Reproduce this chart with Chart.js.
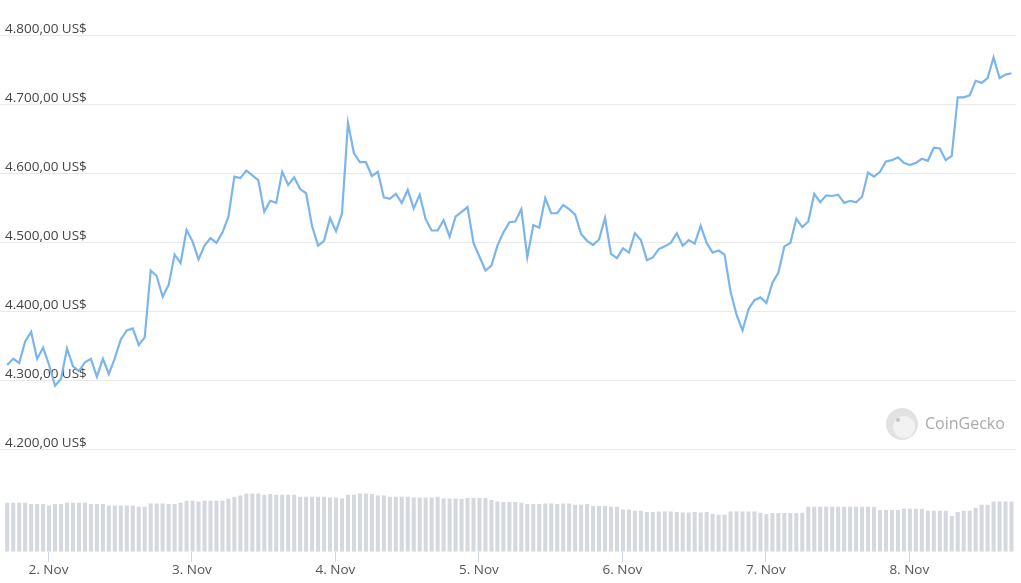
<!DOCTYPE html>
<html>
<head>
<meta charset="utf-8">
<script src="https://cdn.jsdelivr.net/npm/chart.js@4"></script>
<style>
  html, body { margin: 0; padding: 0; background: #fff; }
  #wrap { width: 1021px; height: 583px; }
</style>
</head>
<body>
<div id="wrap"><canvas id="myChart"></canvas></div>
<script>
// 価格 (US$) 1時間ごと、11/1 17時ごろから
const prices = [
  4323, 4332, 4326, 4357, 4371, 4332, 4348, 4323, 4293, 4303,
  4347, 4321, 4314, 4327, 4332, 4306, 4332, 4310, 4333, 4360,
  4373, 4376, 4352, 4363, 4460, 4452, 4422, 4439, 4483, 4471,
  4519, 4502, 4476, 4496, 4507, 4500, 4515, 4538, 4596, 4594,
  4605, 4598, 4591, 4545, 4561, 4558, 4603, 4584, 4595, 4578,
  4572, 4524, 4496, 4503, 4536, 4517, 4543, 4674, 4630, 4617,
  4617, 4597, 4603, 4566, 4564, 4571, 4558, 4577, 4550, 4570,
  4534, 4518, 4518, 4533, 4509, 4538, 4545, 4552, 4500, 4480,
  4460, 4467, 4496, 4515, 4530, 4531, 4549, 4479, 4526, 4522,
  4565, 4543, 4543, 4555, 4549, 4541, 4513, 4503, 4497, 4505,
  4536, 4484, 4478, 4492, 4486, 4514, 4504, 4475, 4479, 4491,
  4495, 4500, 4514, 4496, 4504, 4499, 4525, 4500, 4486, 4489,
  4483, 4429, 4396, 4373, 4404, 4417, 4421, 4413, 4442, 4457,
  4495, 4500, 4535, 4523, 4531, 4571, 4559, 4569, 4568, 4570,
  4558, 4561, 4559, 4567, 4602, 4596, 4603, 4618, 4620, 4624,
  4616, 4613, 4616, 4622, 4619, 4638, 4637, 4620, 4626, 4711,
  4711, 4714, 4735, 4732, 4739, 4769, 4739, 4744, 4746
];

// 取引量 (十億US$)
const volumes = [
  19.6, 19.6, 19.6, 19.6, 19.1, 19.1, 19.1, 18.5, 19.1, 19.1,
  19.6, 19.6, 19.6, 19.6, 19.1, 19.1, 19.1, 18.5, 18.5, 18.5,
  18.5, 18.5, 18.0, 18.0, 19.3, 19.3, 19.3, 19.1, 19.1, 19.6,
  20.4, 20.4, 20.1, 20.4, 20.4, 20.4, 20.4, 21.2, 22.0, 22.5,
  23.3, 23.3, 23.3, 22.8, 23.1, 22.8, 22.8, 22.8, 22.8, 22.0,
  22.0, 22.0, 22.0, 22.0, 21.7, 21.7, 21.3, 22.8, 22.8, 23.3,
  23.3, 23.1, 22.5, 22.5, 22.0, 22.0, 22.0, 22.0, 21.7, 21.7,
  21.7, 21.7, 22.0, 21.3, 21.3, 21.3, 21.1, 21.5, 21.5, 21.5,
  21.5, 20.7, 20.1, 19.9, 19.9, 19.9, 19.6, 19.1, 19.1, 19.1,
  19.3, 19.3, 19.1, 19.3, 19.3, 18.8, 18.8, 19.1, 18.3, 18.3,
  18.3, 18.0, 18.0, 16.9, 16.9, 16.4, 16.4, 15.9, 15.9, 16.1,
  16.1, 16.1, 15.9, 15.7, 15.7, 15.9, 15.7, 15.9, 15.1, 14.8,
  14.8, 16.1, 16.1, 16.1, 16.1, 16.1, 15.6, 15.1, 15.5, 15.5,
  15.5, 15.5, 15.5, 15.6, 18.0, 18.0, 18.0, 18.0, 18.0, 18.0,
  18.0, 18.0, 18.0, 18.0, 18.0, 18.0, 16.7, 16.7, 16.7, 16.7,
  17.2, 17.2, 17.2, 17.2, 16.4, 16.4, 16.4, 16.4, 14.3, 15.9,
  16.4, 16.4, 17.5, 18.8, 18.8, 20.1, 20.1, 20.1, 20.1
];

// 11/1 0時からの経過時間(時)
const startHour = 17.1;
const hours = prices.map((p, i) => startHour + i);

const dayTicks = [24, 48, 72, 96, 120, 144, 168];
const dayLabels = ['2. Nov', '3. Nov', '4. Nov', '5. Nov', '6. Nov', '7. Nov', '8. Nov'];
const priceTicks = [4200, 4300, 4400, 4500, 4600, 4700, 4800];

function usd(v) {
    const s = Math.round(v).toString();
    return s.slice(0, -3) + '.' + s.slice(-3) + ',00 US$';
}

// CoinGeckoの透かし
const watermark = {
    id: 'watermark',
    beforeDatasetsDraw(chart) {
        const c = chart.ctx;
        c.save();
        c.beginPath();
        c.arc(902, 424, 16, 0, Math.PI * 2);
        c.fillStyle = '#e2e2e2';
        c.fill();
        c.beginPath();
        c.arc(904, 427, 11, 0, Math.PI * 2);
        c.fillStyle = '#f2f2f2';
        c.fill();
        c.beginPath();
        c.arc(898, 420, 2, 0, Math.PI * 2);
        c.fillStyle = '#c4c4c4';
        c.fill();
        c.fillStyle = '#aaaaaa';
        c.font = '16px "Open Sans", sans-serif';
        c.textBaseline = 'middle';
        c.fillText('CoinGecko', 925, 424);
        c.restore();
    }
};

const ctx = document.getElementById('myChart').getContext('2d');
const myChart = new Chart(ctx, {
    type: 'bar',
    data: {
        datasets: [
        {
            type: 'line',
            label: 'Price',
            data: prices.map((p, i) => ({ x: hours[i], y: p })),
            borderColor: '#7cb5ec',
            borderWidth: 2.2,
            pointRadius: 0,
            tension: 0,
            yAxisID: 'y',
            order: 0
        },
        {
            type: 'bar',
            label: 'Volume',
            data: volumes.map((v, i) => ({ x: hours[i], y: v })),
            backgroundColor: '#d5d8de',
            barPercentage: 0.68,
            categoryPercentage: 1,
            yAxisID: 'vol',
            order: 1
        }
        ]
    },
    options: {
        responsive: true,
        maintainAspectRatio: false,
        animation: false,
        layout: { padding: { left: 0, right: 5, top: 0, bottom: 5 } },
        plugins: {
            legend: { display: false },
            tooltip: { enabled: false }
        },
        scales: {
            x: {
                type: 'linear',
                offset: false,
                min: 15.89,
                max: 185.85,
                afterBuildTicks: axis => { axis.ticks = dayTicks.map(v => ({ value: v })); },
                grid: {
                    offset: false,
                    drawOnChartArea: false,
                    drawTicks: true,
                    tickLength: 10,
                    color: '#ccd6eb'
                },
                border: { display: false },
                ticks: {
                    autoSkip: false,
                    maxRotation: 0,
                    padding: 0,
                    color: '#555',
                    font: { family: '"Open Sans", sans-serif', size: 13.5 },
                    callback: v => dayLabels[dayTicks.indexOf(v)]
                }
            },
            y: {
                position: 'left',
                min: 4052.17,
                max: 4852.17,
                afterBuildTicks: axis => { axis.ticks = priceTicks.map(v => ({ value: v })); },
                afterFit: axis => {
                    axis.width = 0;
                    axis.paddingTop = 0;
                    axis.paddingBottom = 0;
                },
                grid: {
                    drawTicks: false,
                    color: '#e9e9e9'
                },
                border: { display: false },
                ticks: {
                    mirror: true,
                    padding: 5,
                    labelOffset: -7,
                    color: '#444',
                    font: { family: '"Open Sans", sans-serif', size: 13.5 },
                    callback: v => usd(v)
                }
            },
            vol: {
                position: 'right',
                display: false,
                min: 0,
                max: 220.8
            }
        }
    },
    plugins: [watermark]
});
</script>
</body>
</html>
